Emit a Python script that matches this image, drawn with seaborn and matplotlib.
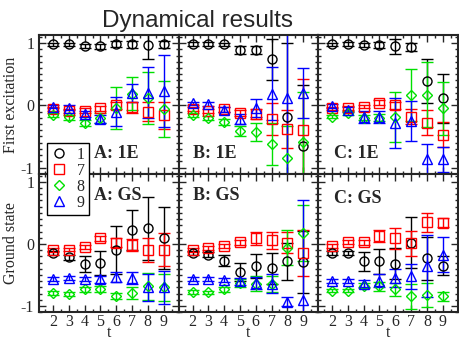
import numpy as np
import pandas as pd
import seaborn as sns
import matplotlib.pyplot as plt
from matplotlib.lines import Line2D
from matplotlib.ticker import MultipleLocator

t = [2, 3, 4, 5, 6, 7, 8, 9]
series = ["1", "7", "8", "9"]
colors = ["black", "#ff0000", "#00e000", "#0000ff"]
markers = ["o", "s", "D", "^"]

# rows: series 1, 7, 8, 9
A_1E = [[0.98, 0.98, 0.96, 0.95, 0.99, 0.98, 0.97, 0.98],
        [-0.06, -0.09, -0.09, -0.05, 0.0, -0.03, -0.10, -0.16],
        [-0.16, -0.19, -0.29, -0.20, -0.04, 0.19, 0.12, -0.06],
        [-0.02, -0.04, -0.14, -0.22, -0.10, 0.20, 0.20, 0.23]]
A_1E_err = [[0.03, 0.03, 0.03, 0.04, 0.05, 0.05, 0.22, 0.05],
            [0.03, 0.03, 0.04, 0.04, 0.06, 0.09, 0.15, 0.22],
            [0.03, 0.04, 0.05, 0.08, 0.34, 0.26, 0.42, 0.45],
            [0.03, 0.04, 0.05, 0.07, 0.23, 0.15, 0.41, 0.58]]

B_1E = [[0.99, 0.99, 0.98, 0.89, 0.89, 0.74, -0.19, -0.65],
        [-0.06, -0.09, -0.06, -0.12, -0.14, -0.22, -0.38, -0.40],
        [-0.16, -0.20, -0.27, -0.41, -0.43, -0.62, -0.84, -0.59],
        [0.03, 0.02, -0.07, -0.22, -0.04, 0.19, 0.12, 0.20]]
B_1E_err = [[0.03, 0.03, 0.03, 0.06, 0.06, 0.33, 1.2, 0.98],
            [0.03, 0.03, 0.04, 0.05, 0.08, 0.26, 0.30, 0.83],
            [0.03, 0.03, 0.05, 0.08, 0.14, 0.34, 0.50, 0.80],
            [0.03, 0.03, 0.04, 0.08, 0.14, 0.42, 1.5, 0.40]]

C_1E = [[0.98, 0.99, 0.97, 0.97, 0.95, 0.94, 0.39, 0.11],
        [-0.05, -0.04, -0.02, 0.04, 0.0, -0.18, -0.28, -0.47],
        [-0.18, -0.12, -0.20, -0.20, -0.19, 0.17, 0.17, -0.05],
        [-0.01, -0.07, -0.19, -0.19, -0.29, -0.25, -0.87, -0.87]]
C_1E_err = [[0.03, 0.03, 0.03, 0.05, 0.12, 0.07, 0.35, 0.40],
            [0.03, 0.03, 0.03, 0.04, 0.06, 0.12, 0.20, 0.20],
            [0.03, 0.03, 0.04, 0.06, 0.40, 0.42, 0.52, 0.43],
            [0.03, 0.04, 0.10, 0.10, 0.40, 0.32, 0.25, 0.20]]

A_GS = [[-0.15, -0.21, -0.32, -0.31, -0.10, 0.22, 0.25, 0.09],
        [-0.10, -0.09, -0.05, 0.09, 0.02, -0.02, -0.10, -0.09],
        [-0.79, -0.80, -0.73, -0.73, -0.84, -0.79, -0.68, -0.70],
        [-0.56, -0.55, -0.56, -0.57, -0.53, -0.55, -0.70, -0.70]]
A_GS_err = [[0.03, 0.04, 0.13, 0.19, 0.39, 0.32, 0.50, 0.50],
            [0.03, 0.03, 0.03, 0.04, 0.07, 0.10, 0.19, 0.26],
            [0.03, 0.03, 0.04, 0.05, 0.05, 0.10, 0.22, 0.22],
            [0.03, 0.03, 0.03, 0.06, 0.08, 0.10, 0.22, 0.26]]

B_GS = [[-0.14, -0.17, -0.27, -0.45, -0.35, -0.39, -0.28, -0.29],
        [-0.10, -0.06, -0.03, 0.03, 0.09, 0.06, 0.02, -0.15],
        [-0.77, -0.78, -0.73, -0.63, -0.64, -0.64, -0.06, 0.17],
        [-0.56, -0.56, -0.58, -0.60, -0.63, -0.64, -0.93, -0.90]]
B_GS_err = [[0.03, 0.04, 0.09, 0.15, 0.19, 0.25, 0.30, 0.50],
            [0.03, 0.03, 0.03, 0.04, 0.10, 0.14, 0.17, 0.37],
            [0.03, 0.03, 0.04, 0.07, 0.12, 0.13, 0.28, 0.45],
            [0.03, 0.03, 0.03, 0.06, 0.10, 0.15, 0.07, 1.6]]

C_GS = [[-0.14, -0.14, -0.28, -0.28, -0.32, 0.02, -0.23, -0.35],
        [-0.03, 0.03, 0.03, 0.13, 0.09, 0.01, 0.35, 0.34],
        [-0.75, -0.75, -0.67, -0.68, -0.73, -0.84, -0.82, -0.84],
        [-0.59, -0.59, -0.64, -0.59, -0.55, -0.52, -0.35, -0.17]]
C_GS_err = [[0.03, 0.03, 0.15, 0.20, 0.25, 0.41, 0.35, 0.15],
            [0.03, 0.03, 0.04, 0.10, 0.17, 0.20, 0.15, 0.07],
            [0.03, 0.03, 0.04, 0.07, 0.10, 0.20, 0.20, 0.07],
            [0.03, 0.03, 0.06, 0.10, 0.15, 0.20, 0.50, 0.28]]

panels = [[("A: 1E", A_1E, A_1E_err), ("B: 1E", B_1E, B_1E_err), ("C: 1E", C_1E, C_1E_err)],
          [("A: GS", A_GS, A_GS_err), ("B: GS", B_GS, B_GS_err), ("C: GS", C_GS, C_GS_err)]]
row_labels = ["First excitation", "Ground state"]

sns.set_style("ticks")
plt.rcParams["font.family"] = ["Liberation Serif", "DejaVu Serif"]
plt.rcParams["axes.unicode_minus"] = False
plt.rcParams["axes.linewidth"] = 1.5

fig, axes = plt.subplots(2, 3, sharex=True, sharey=True, figsize=(4.6, 3.44), dpi=100)
fig.subplots_adjust(left=0.085, right=0.995, top=0.898, bottom=0.092, wspace=0, hspace=0)

label_pos = [[(0.39, 0.146), (0.106, 0.146), (0.117, 0.146)],
             [(0.39, 0.84), (0.106, 0.84), (0.117, 0.82)]]

for r in range(2):
    for c in range(3):
        ax = axes[r, c]
        name, vals, errs = panels[r][c]
        rows = []
        for i, s in enumerate(series):
            for j, tt in enumerate(t):
                rows.append({"t": tt, "value": vals[i][j], "err": errs[i][j], "series": s})
        df = pd.DataFrame(rows)
        for i, s in enumerate(series):
            d = df[df["series"] == s]
            ax.errorbar(d["t"], d["value"], yerr=d["err"], fmt=markers[i], color=colors[i],
                        mfc="none", mec=colors[i], ms=6.5 if markers[i] != "D" else 5.5,
                        mew=1, elinewidth=1, capsize=4, capthick=1)
        ax.set_xlim(1.12, 9.95)
        ax.set_ylim(-1.1, 1.13)
        ax.xaxis.set_major_locator(MultipleLocator(1))
        ax.xaxis.set_minor_locator(MultipleLocator(0.5))
        ax.yaxis.set_major_locator(MultipleLocator(1))
        ax.yaxis.set_minor_locator(MultipleLocator(0.1))
        ax.tick_params(which="both", direction="in", top=True, right=True, labelsize=11.5, width=1)
        ax.tick_params(which="major", length=5)
        ax.tick_params(which="minor", length=2.5)
        ax.tick_params(axis="x", pad=1.5)
        ax.text(label_pos[r][c][0], label_pos[r][c][1], name, transform=ax.transAxes,
                fontsize=13, fontweight="bold", va="center", ha="left")
        if r == 1:
            ax.set_xlabel("t", fontsize=11.5, labelpad=-4)
        if c == 0:
            ax.set_ylabel(row_labels[r], fontsize=11.5, labelpad=1)

handles = [Line2D([], [], marker=markers[i], color=colors[i], mfc="none", ls="none",
                  ms=6.5 if markers[i] != "D" else 5.5, mew=1) for i in range(4)]
leg = fig.legend(handles, series, loc="upper left", bbox_to_anchor=(47 / 460, 1 - 143 / 344),
                 frameon=True, fancybox=False, edgecolor="black", framealpha=1, fontsize=11.5,
                 handlelength=1.0, handletextpad=0.6, labelspacing=0.0, borderpad=0.25,
                 borderaxespad=0)
leg.get_frame().set_linewidth(1)

fig.text(197 / 460, 1 - 27 / 344, "Dynamical results", ha="center", va="baseline",
         fontsize=17.5, family="Liberation Sans")

plt.savefig("out.png", dpi=100)
